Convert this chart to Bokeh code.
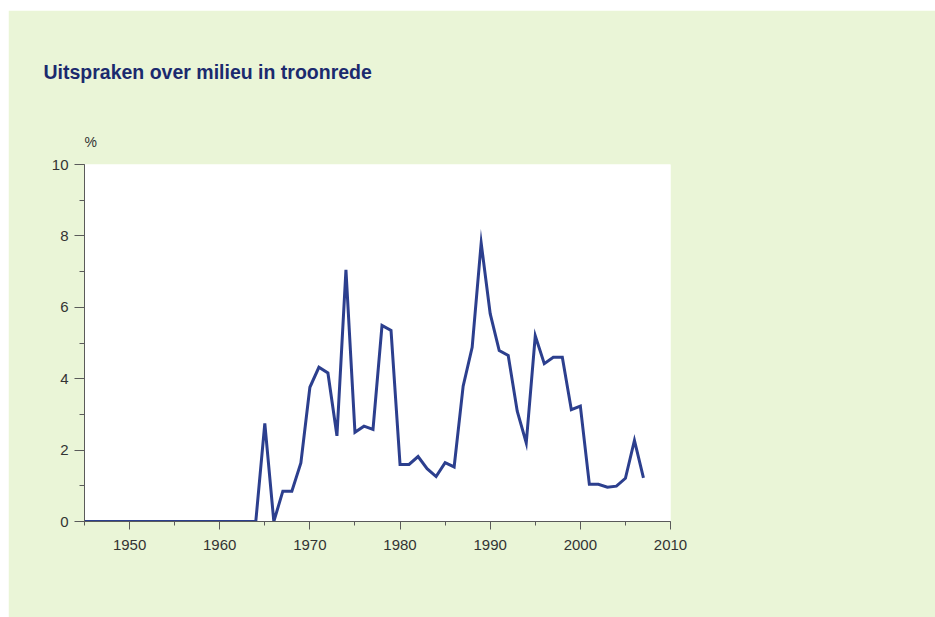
from bokeh.plotting import figure
from bokeh.models import Range1d, SingleIntervalTicker, Title
from bokeh.embed import file_html
from bokeh.resources import INLINE

years = list(range(1945, 2008))
values = [0.0] * 20 + [
    2.75, 0.0, 0.85, 0.85, 1.64, 3.76, 4.32, 4.16, 2.40, 7.05,
    2.50, 2.67, 2.58, 5.49, 5.35, 1.60, 1.60, 1.82, 1.48, 1.26,
    1.65, 1.53, 3.79, 4.88, 7.80, 5.82, 4.79, 4.65, 3.09, 2.20,
    5.20, 4.42, 4.60, 4.60, 3.13, 3.23, 1.04, 1.04, 0.96, 0.99,
    1.21, 2.27, 1.22,
]
title_text = "Uitspraken over milieu in troonrede"
unit_text = "%"

BG = "#EAF5D7"
FONT = "Liberation Sans"

p = figure(width=927, height=607, output_backend="svg", toolbar_location=None,
           x_range=Range1d(1945, 2010), y_range=Range1d(0, 10),
           min_border_left=76, min_border_right=265, min_border_top=154,
           min_border_bottom=96)
p.margin = (10, 0, 0, 8)
p.border_fill_color = BG
p.background_fill_color = "white"
p.outline_line_color = None
p.grid.visible = False

p.line(years, values, line_color="#2C3F8E", line_width=3, line_join="miter")

xa = p.xaxis[0]
xa.ticker = SingleIntervalTicker(interval=10, num_minor_ticks=2)
ya = p.yaxis[0]
ya.ticker = SingleIntervalTicker(interval=2, num_minor_ticks=2)
for ax in (xa, ya):
    ax.axis_line_color = "#5a5a5a"
    ax.major_tick_line_color = "#5a5a5a"
    ax.minor_tick_line_color = "#5a5a5a"
    ax.major_tick_in = 0
    ax.minor_tick_in = 0
    ax.major_label_text_font = FONT
    ax.major_label_text_font_size = "15px"
    ax.major_label_text_color = "#333333"
xa.major_tick_out = 8
xa.minor_tick_out = 4
xa.major_label_standoff = 10
ya.major_tick_out = 10
ya.minor_tick_out = 5
ya.major_label_standoff = 6

p.title.text = title_text
p.title.align = "left"
p.title.offset = -41
p.title.standoff = 70
p.title.text_font = FONT
p.title.text_font_size = "19.5px"
p.title.text_font_style = "bold"
p.title.text_color = "#1B2A6E"

p.add_layout(Title(text=unit_text, align="left", offset=0, standoff=29,
                   text_font=FONT, text_font_size="14px",
                   text_font_style="normal", text_color="#333333"), "above")

open("out.html", "w").write(file_html(p, INLINE))
